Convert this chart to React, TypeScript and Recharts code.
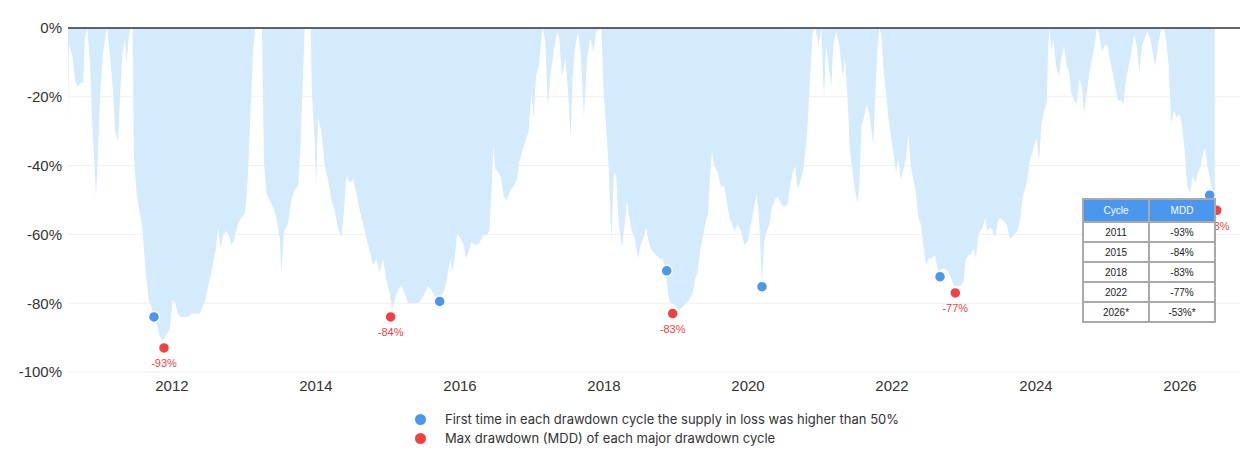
import React from 'react'
import {
  ComposedChart,
  Area,
  Scatter,
  XAxis,
  YAxis,
  CartesianGrid,
  ReferenceLine,
} from 'recharts'

// drawdown from ATH, [decimal year, %]
const drawdown: [number, number][] = [
  [2010.556, -28], [2010.569, -5], [2010.593, -6], [2010.625, -9], [2010.653, -15],
  [2010.685, -17], [2010.732, -16], [2010.768, -16], [2010.788, -3], [2010.824, 0],
  [2010.861, -10], [2010.889, -26], [2010.917, -37], [2010.944, -49], [2010.972, -37],
  [2011.0, -20], [2011.038, -8], [2011.079, -2], [2011.101, 0], [2011.139, -8],
  [2011.176, -17], [2011.213, -30], [2011.25, -33], [2011.278, -20], [2011.31, -8],
  [2011.343, -3], [2011.371, -10], [2011.399, -3], [2011.426, 0], [2011.454, 0],
  [2011.472, -38], [2011.51, -48], [2011.546, -53], [2011.583, -57], [2011.611, -64],
  [2011.639, -72], [2011.676, -79], [2011.713, -81], [2011.75, -84], [2011.788, -86],
  [2011.824, -89], [2011.861, -91], [2011.899, -90], [2011.935, -89], [2011.972, -87],
  [2012.01, -79], [2012.046, -80], [2012.083, -83], [2012.121, -84], [2012.167, -84],
  [2012.222, -84], [2012.278, -83], [2012.333, -83], [2012.389, -83], [2012.426, -81],
  [2012.463, -79], [2012.5, -75], [2012.538, -72], [2012.574, -68], [2012.611, -64],
  [2012.639, -58], [2012.676, -64], [2012.713, -60], [2012.75, -59], [2012.788, -60],
  [2012.824, -63], [2012.861, -62], [2012.899, -58], [2012.935, -56], [2012.972, -55],
  [2013.01, -54], [2013.038, -49], [2013.06, -40], [2013.083, -28], [2013.107, -16],
  [2013.129, -6], [2013.157, 0], [2013.25, 0],
  [2013.278, -39], [2013.31, -48], [2013.357, -50], [2013.403, -52], [2013.449, -55],
  [2013.496, -61], [2013.518, -71], [2013.556, -59], [2013.611, -57], [2013.657, -50],
  [2013.704, -47], [2013.75, -46], [2013.788, -33], [2013.81, -19], [2013.843, 0],
  [2013.926, 0], [2013.944, -19], [2013.982, -33], [2014.004, -46], [2014.028, -26],
  [2014.074, -30], [2014.121, -40], [2014.167, -44], [2014.213, -50], [2014.26, -53],
  [2014.306, -58], [2014.351, -61], [2014.389, -53], [2014.421, -43], [2014.468, -45],
  [2014.514, -44], [2014.56, -48], [2014.607, -53], [2014.653, -57], [2014.699, -61],
  [2014.746, -65], [2014.792, -69], [2014.838, -67], [2014.885, -71], [2014.931, -67],
  [2014.976, -73], [2015.024, -77], [2015.056, -82], [2015.093, -79], [2015.139, -76],
  [2015.185, -75], [2015.232, -77], [2015.278, -80], [2015.324, -80], [2015.371, -80],
  [2015.417, -80], [2015.463, -79], [2015.51, -77], [2015.556, -75], [2015.601, -76],
  [2015.649, -78], [2015.694, -79], [2015.74, -78], [2015.788, -76], [2015.833, -71],
  [2015.871, -67], [2015.889, -71], [2015.926, -67], [2015.958, -60], [2016.004, -61],
  [2016.051, -63], [2016.083, -67], [2016.121, -65], [2016.157, -62], [2016.19, -63],
  [2016.236, -63], [2016.282, -62], [2016.329, -60], [2016.375, -60], [2016.407, -59],
  [2016.435, -48], [2016.463, -34], [2016.49, -41], [2016.538, -42], [2016.574, -44],
  [2016.607, -49], [2016.653, -50], [2016.699, -47], [2016.746, -46], [2016.792, -44],
  [2016.824, -39], [2016.861, -36], [2016.907, -33], [2016.954, -30], [2016.99, -19],
  [2017.024, -26], [2017.056, -14], [2017.093, -11], [2017.121, -5], [2017.149, 0],
  [2017.185, -4], [2017.222, -23], [2017.254, -14], [2017.301, -7], [2017.347, -1],
  [2017.379, -3], [2017.417, -14], [2017.463, -9], [2017.5, -18], [2017.538, -32],
  [2017.565, -14], [2017.601, -5], [2017.639, -1], [2017.676, -7], [2017.722, -26],
  [2017.764, -9], [2017.81, -3], [2017.857, -7], [2017.889, -1], [2017.963, 0],
  [2017.996, -19], [2018.028, -28], [2018.065, -41], [2018.101, -62], [2018.135, -43],
  [2018.167, -42], [2018.204, -57], [2018.25, -64], [2018.288, -57], [2018.319, -50],
  [2018.351, -55], [2018.389, -59], [2018.426, -61], [2018.472, -67], [2018.51, -63],
  [2018.551, -61], [2018.583, -58], [2018.629, -63], [2018.676, -65], [2018.722, -66],
  [2018.768, -67], [2018.815, -67], [2018.851, -70], [2018.889, -77], [2018.917, -80],
  [2018.954, -80], [2019.0, -81], [2019.046, -82], [2019.093, -81], [2019.139, -80],
  [2019.185, -79], [2019.232, -77], [2019.268, -73], [2019.301, -71], [2019.333, -65],
  [2019.371, -61], [2019.407, -57], [2019.444, -54], [2019.472, -43], [2019.5, -36],
  [2019.532, -40], [2019.579, -42], [2019.625, -46], [2019.671, -46], [2019.704, -50],
  [2019.74, -55], [2019.778, -57], [2019.815, -59], [2019.857, -57], [2019.903, -59],
  [2019.949, -63], [2019.996, -62], [2020.042, -57], [2020.088, -52], [2020.121, -48],
  [2020.157, -57], [2020.194, -74], [2020.226, -62], [2020.26, -59], [2020.296, -57],
  [2020.333, -52], [2020.371, -50], [2020.413, -49], [2020.458, -51], [2020.504, -52],
  [2020.551, -51], [2020.583, -46], [2020.621, -42], [2020.657, -40], [2020.69, -47],
  [2020.722, -45], [2020.76, -42], [2020.796, -36], [2020.829, -28], [2020.851, -19],
  [2020.875, -9], [2020.899, -1], [2020.935, 0], [2020.982, -5], [2021.018, 0],
  [2021.056, -21], [2021.083, -5], [2021.121, -11], [2021.157, -17], [2021.185, -5],
  [2021.222, -1], [2021.268, -5], [2021.315, -14], [2021.347, -9], [2021.379, -19],
  [2021.417, -36], [2021.454, -42], [2021.486, -47], [2021.518, -51], [2021.546, -46],
  [2021.579, -28], [2021.611, -26], [2021.649, -22], [2021.685, -25], [2021.718, -30],
  [2021.74, -34], [2021.768, -19], [2021.796, -7], [2021.824, 0], [2021.851, -2],
  [2021.879, -11], [2021.917, -19], [2021.949, -26], [2021.982, -31], [2022.018, -36],
  [2022.056, -42], [2022.088, -38], [2022.121, -44], [2022.157, -41], [2022.194, -38],
  [2022.226, -31], [2022.26, -40], [2022.296, -44], [2022.333, -48], [2022.365, -55],
  [2022.399, -57], [2022.435, -63], [2022.472, -69], [2022.51, -67], [2022.551, -67],
  [2022.597, -66], [2022.643, -71], [2022.69, -70], [2022.736, -70], [2022.782, -71],
  [2022.829, -73], [2022.861, -75], [2022.899, -75], [2022.944, -75], [2022.99, -74],
  [2023.028, -67], [2023.06, -66], [2023.093, -66], [2023.129, -64], [2023.167, -67],
  [2023.194, -61], [2023.222, -59], [2023.26, -58], [2023.292, -55], [2023.324, -59],
  [2023.361, -58], [2023.399, -59], [2023.431, -61], [2023.463, -57], [2023.5, -55],
  [2023.546, -56], [2023.593, -57], [2023.629, -61], [2023.667, -61], [2023.704, -60],
  [2023.74, -59], [2023.778, -56], [2023.815, -49], [2023.847, -47], [2023.879, -44],
  [2023.917, -38], [2023.954, -36], [2023.972, -34], [2024.01, -32], [2024.042, -39],
  [2024.074, -28], [2024.111, -24], [2024.149, -22], [2024.167, -7], [2024.185, 0],
  [2024.213, -7], [2024.24, -3], [2024.278, -11], [2024.319, -14], [2024.351, -9],
  [2024.389, -5], [2024.426, -11], [2024.463, -13], [2024.49, -19], [2024.528, -21],
  [2024.565, -22], [2024.601, -15], [2024.639, -17], [2024.667, -25], [2024.704, -19],
  [2024.74, -13], [2024.778, -9], [2024.815, -5], [2024.843, 0], [2024.879, -2],
  [2024.917, -7], [2024.954, -5], [2024.99, -5], [2025.028, -9], [2025.065, -13],
  [2025.101, -17], [2025.139, -21], [2025.176, -21], [2025.213, -22], [2025.25, -15],
  [2025.288, -11], [2025.324, -7], [2025.361, -2], [2025.399, -5], [2025.435, -13],
  [2025.472, -5], [2025.51, -3], [2025.546, -1], [2025.583, -3], [2025.621, -7],
  [2025.657, -11], [2025.694, -5], [2025.732, -1], [2025.768, 0], [2025.806, -3],
  [2025.843, -11], [2025.879, -28], [2025.917, -24], [2025.954, -26], [2025.99, -25],
  [2026.028, -28], [2026.065, -36], [2026.101, -46], [2026.139, -48], [2026.176, -43],
  [2026.213, -45], [2026.25, -42], [2026.288, -40], [2026.324, -36], [2026.351, -35],
  [2026.379, -40], [2026.417, -44], [2026.454, -48], [2026.482, -49],
]

// first time supply in loss > 50% in each cycle
const firstHalfLoss: [number, number][] = [
  [2011.75, -84], [2015.718, -79.5], [2018.871, -70.6],
  [2020.194, -75.2], [2022.667, -72.3], [2026.412, -48.6],
]

// max drawdown of each cycle
const maxDrawdown: [number, number][] = [
  [2011.889, -93], [2015.037, -84], [2018.954, -83],
  [2022.879, -77], [2026.51, -53],
]

const yearTicks = [2012, 2014, 2016, 2018, 2020, 2022, 2024, 2026]
const pctTicks = [-100, -80, -60, -40, -20, 0]

const cycleNames = ['2011', '2015', '2018', '2022', '2026*']
const cycleMdd = ['-93%', '-84%', '-83%', '-77%', '-53%*']

const BLUE = '#4a97f0'
const RED = '#f23f3f'
const AREA = '#d3ebfd'
const FONT = '"Liberation Sans", Arial, sans-serif'

const rows = drawdown.map(([t, dd]) => ({ t, dd }))
const bluePts = firstHalfLoss.map(([t, dd]) => ({ t, dd }))
const redPts = maxDrawdown.map(([t, dd]) => ({ t, dd }))

// eslint-disable-next-line @typescript-eslint/no-explicit-any
function BlueDot(props: any) {
  const { cx, cy } = props
  if (cx == null || cy == null) return null
  return <circle cx={cx} cy={cy} r={5.5} fill={BLUE} stroke="#fff" strokeWidth={1.5} />
}

// eslint-disable-next-line @typescript-eslint/no-explicit-any
function RedDot(props: any) {
  const { cx, cy, payload } = props
  if (cx == null || cy == null) return null
  return (
    <g>
      <circle cx={cx} cy={cy} r={5.5} fill={RED} stroke="#fff" strokeWidth={1.5} />
      <text
        x={cx}
        y={cy + 19.5}
        textAnchor="middle"
        fontSize={11}
        fontFamily={FONT}
        fill={RED}
      >
        {`${Math.round(payload.dd)}%`}
      </text>
    </g>
  )
}

const cell: React.CSSProperties = {
  border: '2px solid #a9a9a9',
  textAlign: 'center',
  padding: 0,
  height: 18,
  fontSize: 10,
  color: '#222',
  width: 64,
}

export default function App() {
  return (
    <div style={{ position: 'absolute', left: 0, top: 0, width: 1260, height: 470, background: '#fff' }}>
      <ComposedChart
        width={1260}
        height={470}
        data={rows}
        margin={{ top: 28, right: 20, bottom: 68, left: 0 }}
      >
        <CartesianGrid vertical={false} stroke="#f0f0f0" />
        <XAxis
          type="number"
          dataKey="t"
          domain={[2010.556, 2026.833]}
          ticks={yearTicks}
          allowDataOverflow
          height={30}
          axisLine={false}
          tickLine={false}
          tickSize={0}
          tickMargin={8}
          tick={{ fontSize: 15, fill: '#333', fontFamily: FONT }}
        />
        <YAxis
          type="number"
          domain={[-100, 0]}
          ticks={pctTicks}
          width={68}
          axisLine={false}
          tickLine={false}
          tickSize={0}
          tickMargin={6}
          tickFormatter={(v) => `${v}%`}
          tick={{ fontSize: 15, fill: '#333', fontFamily: FONT }}
        />
        <Area
          type="linear"
          dataKey="dd"
          baseValue={0}
          fill={AREA}
          fillOpacity={1}
          stroke="none"
          isAnimationActive={false}
        />
        <ReferenceLine y={0} stroke="#333" strokeWidth={1.5} />
        <Scatter data={bluePts} dataKey="dd" shape={BlueDot} isAnimationActive={false} />
        <Scatter data={redPts} dataKey="dd" shape={RedDot} isAnimationActive={false} />
      </ComposedChart>

      <table
        style={{
          position: 'absolute',
          left: 1082,
          top: 198,
          borderCollapse: 'collapse',
          fontFamily: FONT,
          background: '#fff',
        }}
      >
        <thead>
          <tr>
            <th style={{ ...cell, height: 21, background: BLUE, color: '#fff', fontWeight: 400 }}>Cycle</th>
            <th style={{ ...cell, height: 21, background: BLUE, color: '#fff', fontWeight: 400 }}>MDD</th>
          </tr>
        </thead>
        <tbody>
          {cycleNames.map((c, i) => (
            <tr key={c}>
              <td style={cell}>{c}</td>
              <td style={cell}>{cycleMdd[i]}</td>
            </tr>
          ))}
        </tbody>
      </table>

      <div
        style={{
          position: 'absolute',
          left: 415,
          top: 410,
          fontFamily: 'Inter, "Noto Sans", sans-serif',
          fontSize: 13,
          color: '#333',
          lineHeight: '19px',
        }}
      >
        {[
          { color: BLUE, text: 'First time in each drawdown cycle the supply in loss was higher than 50%' },
          { color: RED, text: 'Max drawdown (MDD) of each major drawdown cycle' },
        ].map((item) => (
          <div key={item.text} style={{ display: 'flex', alignItems: 'center' }}>
            <span
              style={{
                display: 'inline-block',
                width: 11,
                height: 11,
                borderRadius: '50%',
                background: item.color,
                marginRight: 19,
              }}
            />
            <span>{item.text}</span>
          </div>
        ))}
      </div>
    </div>
  )
}
